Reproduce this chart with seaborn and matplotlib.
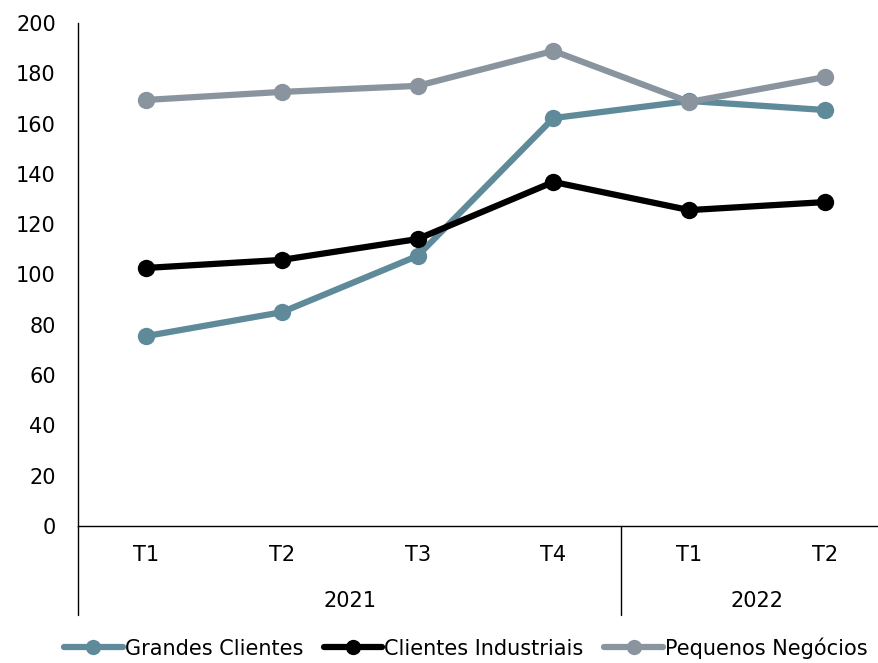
import matplotlib
matplotlib.use("Agg")
import matplotlib.pyplot as plt
import seaborn as sns
import pandas as pd
from matplotlib import font_manager

# data
quarters = ["T1", "T2", "T3", "T4", "T1", "T2"]
years = ["2021", "2022"]
year_sizes = [4, 2]
series_names = ["Grandes Clientes", "Clientes Industriais", "Pequenos Negócios"]
grandes = [75.5, 85.0, 107.4, 162.2, 169.0, 165.4]
industriais = [102.6, 105.8, 114.1, 136.8, 125.6, 128.8]
pequenos = [169.4, 172.6, 175.0, 188.9, 168.6, 178.5]
colors = ["#5f8a99", "#000000", "#8a949e"]

sns.set_style("white")
avail = {f.name for f in font_manager.fontManager.ttflist}
fam = "Liberation Sans Narrow" if "Liberation Sans Narrow" in avail else "DejaVu Sans"
plt.rcParams["font.family"] = [fam, "DejaVu Sans"]
plt.rcParams["text.color"] = "black"
plt.rcParams["ytick.color"] = "black"

rows = []
for name, vals in zip(series_names, [grandes, industriais, pequenos]):
    for i, v in enumerate(vals):
        rows.append({"pos": i, "valor": v, "serie": name})
df = pd.DataFrame(rows)

fig = plt.figure(figsize=(8.79, 6.63), dpi=100)
W, H = 879, 663
ax = fig.add_axes([78 / W, (H - 526) / H, 815 / W, 503 / H])

sns.lineplot(data=df, x="pos", y="valor", hue="serie", hue_order=series_names,
             palette=colors, marker="o", markersize=12.5, markeredgewidth=0,
             linewidth=4.5, ax=ax, legend=False)

ax.set_xlim(-0.5, len(quarters) - 0.5)
ax.set_ylim(0, 200)
ax.set_yticks(range(0, 201, 20))
ax.tick_params(axis="y", labelsize=15, length=0, pad=16, labelcolor="black")
ax.set_xticks([])
ax.set_xlabel("")
ax.set_ylabel("")
for s in ["top", "right"]:
    ax.spines[s].set_visible(False)
ax.spines["left"].set_color("black")
ax.spines["bottom"].set_color("black")
ax.spines["left"].set_linewidth(1)
ax.spines["bottom"].set_linewidth(1)

# category labels (quarter / year)
trans = ax.get_xaxis_transform()
for i, q in enumerate(quarters):
    ax.text(i, -29 / 503, q, transform=trans, ha="center", va="center", fontsize=15)
start = 0
for y, n in zip(years, year_sizes):
    ax.text(start + (n - 1) / 2, -75 / 503, y, transform=trans, ha="center", va="center", fontsize=15)
    start += n
# group separators
ax.plot([-0.5, -0.5], [0, -89 / 503], transform=trans, color="black", lw=1, clip_on=False)
ax.plot([3.5, 3.5], [0, -89 / 503], transform=trans, color="black", lw=1, clip_on=False)

handles = [plt.Line2D([], [], color=c, lw=4.5, marker="o", markersize=11, markeredgewidth=0)
           for c in colors]
fig.legend(handles, series_names, loc="center", bbox_to_anchor=(0.53, 1 - 648 / H),
           ncol=3, frameon=False, fontsize=15, handlelength=2.8, handletextpad=0.1,
           columnspacing=1.0)

fig.savefig("out.png", dpi=100)
